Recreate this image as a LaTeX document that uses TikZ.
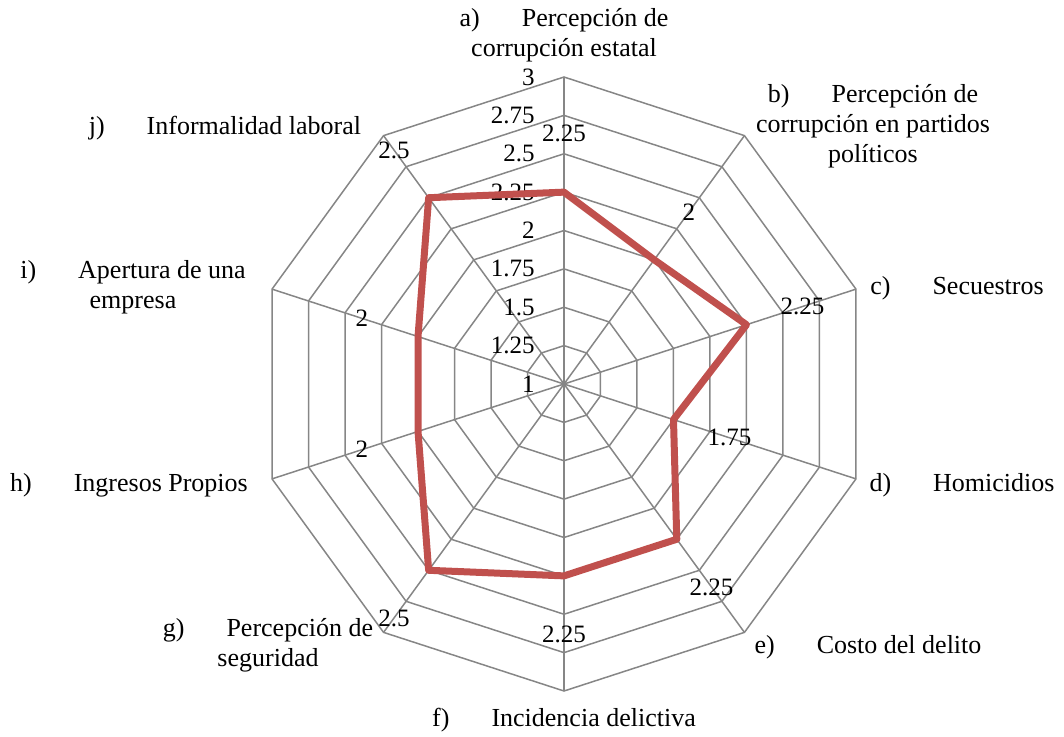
\documentclass[tikz,border=0pt]{standalone}
\usepackage{fontspec}
\setmainfont{Liberation Serif}
\usetikzlibrary{calc,positioning}

\definecolor{gridgray}{RGB}{134,134,134}
\definecolor{seriesred}{RGB}{192,80,77}
\newcommand{\itemgap}{\hspace{21pt}}

\begin{document}
\begin{tikzpicture}[x=0.5pt,y=0.5pt,
  grid/.style={draw=gridgray, line width=0.75pt},
  series/.style={draw=seriesred, line width=3.5pt, line join=round},
  cat/.style={align=center, inner sep=0pt, font=\fontsize{13}{15}\selectfont},
  val/.style={inner sep=0pt, font=\fontsize{12.5}{15}\selectfont}]
\useasboundingbox (-564,-352) rectangle (500,384);
\coordinate (c) at (0,0);

% rings and spokes
\foreach \k in {1,...,8} {
  \draw[grid] (90:\k*38.375) -- (54:\k*38.375) -- (18:\k*38.375) -- (-18:\k*38.375)
    -- (-54:\k*38.375) -- (-90:\k*38.375) -- (-126:\k*38.375) -- (-162:\k*38.375)
    -- (-198:\k*38.375) -- (-234:\k*38.375) -- cycle;
}
\foreach \a in {90,54,18,-18,-54,-90,-126,-162,-198,-234}
  \draw[grid] (c) -- (\a:307);

% axis values
\foreach \v [count=\i from 0] in {1,1.25,1.5,1.75,2,2.25,2.5,2.75,3}
  \node[val, anchor=east, name=t\i] at (-29,\i*38.375) {\v};

% data
\foreach \n/\a/\v in {a/90/2.25, b/54/2, c/18/2.25, d/-18/1.75, e/-54/2.25,
    f/-90/2.25, g/-126/2.5, h/-162/2, i/-198/2, j/-234/2.5}
  \coordinate (p\n) at (\a:{(\v-1)*153.5});

\draw[series] (pa) -- (pb) -- (pc) -- (pd) -- (pe) -- (pf) -- (pg) -- (ph) -- (pi) -- (pj) -- cycle;

\foreach \n/\a/\v in {a/90/2.25, b/54/2, c/18/2.25, d/-18/1.75, e/-54/2.25,
    f/-90/2.25, g/-126/2.5, h/-162/2, i/-198/2, j/-234/2.5}
  \node[val, name=v\n] at (\a:{(\v-1)*153.5+59}) {\v};

% categories
\node[cat, name=ca] at (0,349) {a)\itemgap Percepción de\\corrupción estatal};
\node[cat, name=cb] at (309,258) {b)\itemgap Percepción de\\corrupción en partidos\\políticos};
\node[cat, name=cc] at (393,96) {c)\itemgap Secuestros};
\node[cat, name=cd] at (398,-101) {d)\itemgap Homicidios};
\node[cat, name=ce] at (304,-263) {e)\itemgap Costo del delito};
\node[cat, name=cf] at (0,-336) {f)\itemgap Incidencia delictiva};
\node[cat, name=cg] at (-296,-261) {g)\itemgap Percepción de\\seguridad};
\node[cat, name=ch] at (-435,-101) {h)\itemgap Ingresos Propios};
\node[cat, name=ci] at (-431,97) {i)\itemgap Apertura de una\\empresa};
\node[cat, name=cj] at (-339,256) {j)\itemgap Informalidad laboral};
\end{tikzpicture}
\end{document}
